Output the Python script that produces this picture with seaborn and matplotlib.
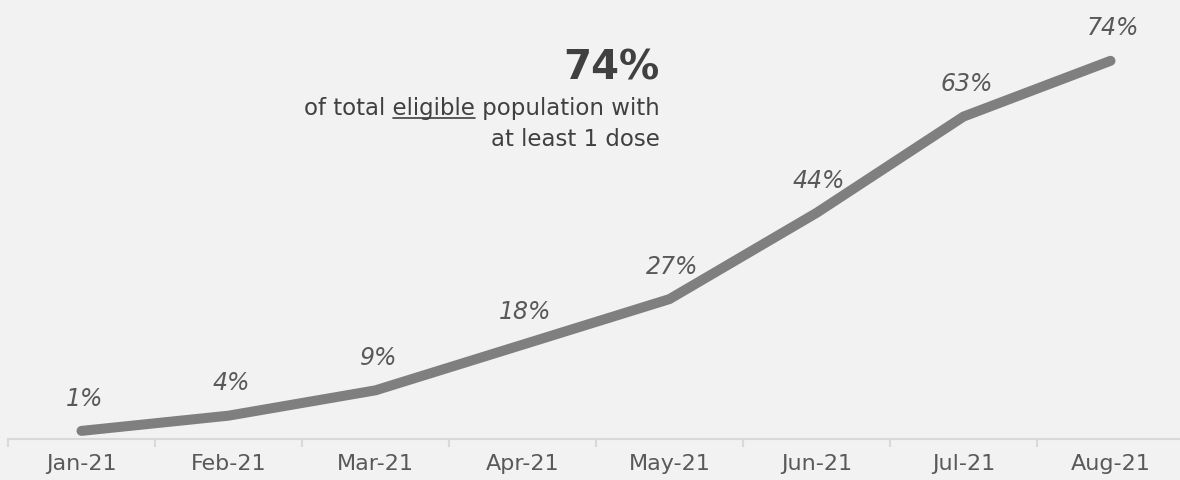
import matplotlib
matplotlib.use("Agg")
import matplotlib.pyplot as plt
from matplotlib.lines import Line2D
import seaborn as sns
import pandas as pd

months = ["Jan-21", "Feb-21", "Mar-21", "Apr-21", "May-21", "Jun-21", "Jul-21", "Aug-21"]
pct = [1, 4, 9, 18, 27, 44, 63, 74]

sns.set_style("white")
plt.rcParams["font.family"] = ["DejaVu Sans"]

bg = "#f2f2f2"
W, H = 1180, 481
fig = plt.figure(figsize=(11.8, 4.81), dpi=100, facecolor=bg)
ax = fig.add_axes([8 / W, 41 / H, 1176 / W, 408.6 / H])
ax.set_facecolor(bg)

df = pd.DataFrame({"idx": range(len(months)), "pct": pct})
sns.lineplot(data=df, x="idx", y="pct", ax=ax, color="#7f7f7f", linewidth=7.2,
             solid_capstyle="round", solid_joinstyle="round")

for i, v in enumerate(pct):
    ax.annotate(f"{v}%", (i, v), xytext=(2, 24), textcoords="offset points",
                ha="center", va="center", fontsize=17, style="italic", color="#595959")

ax.set_xlim(-0.5, 7.5)
ax.set_ylim(-0.6, 80)
ax.set_xticks(range(len(months)))
ax.set_xticklabels(months)
ax.set_xticks([i - 0.5 for i in range(len(months))], minor=True)
ax.tick_params(axis="x", which="major", bottom=True, length=0, pad=10, labelsize=16,
               labelcolor="#595959")
ax.tick_params(axis="x", which="minor", bottom=True, length=6, width=1.5, color="#d9d9d9",
               direction="out")
ax.set_yticks([])
ax.set_xlabel("")
ax.set_ylabel("")
for s in ["top", "right", "left"]:
    ax.spines[s].set_visible(False)
ax.spines["bottom"].set_color("#d9d9d9")
ax.spines["bottom"].set_linewidth(1.5)

tc = "#404040"
fs = 16.5
xr = 660 / W
fig.text(xr, 1 - 68 / H, "74%", ha="right", va="center", fontsize=29,
         fontweight="bold", color=tc)
line1 = fig.text(xr, 1 - 108 / H, "of total eligible population with",
                 ha="right", va="center", fontsize=fs, color=tc)
fig.text(xr, 1 - 140 / H, "at least 1 dose", ha="right", va="center",
         fontsize=fs, color=tc)

# underline "eligible"
renderer = fig.canvas.get_renderer()
bb = line1.get_window_extent(renderer)
tmp1 = fig.text(0, 0, "of total eligible", fontsize=fs)
tmp2 = fig.text(0, 0, "eligible", fontsize=fs)
w1 = tmp1.get_window_extent(renderer).width
w2 = tmp2.get_window_extent(renderer).width
tmp1.remove()
tmp2.remove()
x_end = bb.x0 + w1
x_start = x_end - w2
y_ul = bb.y0 + 1
fig.add_artist(Line2D([x_start / W, x_end / W], [y_ul / H, y_ul / H],
                      transform=fig.transFigure, color=tc, linewidth=1.2))

fig.savefig("out.png", dpi=100, facecolor=bg)
